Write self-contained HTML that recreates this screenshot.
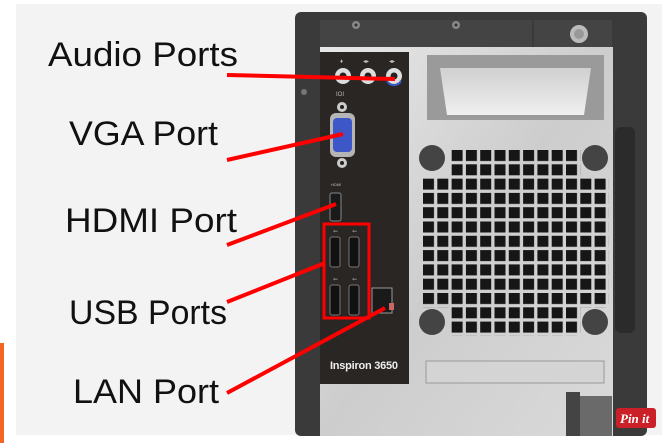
<!DOCTYPE html>
<html><head><meta charset="utf-8"><style>
html,body{margin:0;padding:0;background:#fff;}
svg{display:block;}
</style></head><body>
<svg width="665" height="443" viewBox="0 0 665 443" xmlns="http://www.w3.org/2000/svg">
<defs>
<linearGradient id="sil" x1="0" y1="0" x2="1" y2="1">
<stop offset="0" stop-color="#e8e8e8"/><stop offset="0.5" stop-color="#cdcdcd"/><stop offset="1" stop-color="#dadada"/>
</linearGradient>
<linearGradient id="hd" x1="0" y1="0" x2="0" y2="1">
<stop offset="0" stop-color="#d0d0d0"/><stop offset="1" stop-color="#efefef"/>
</linearGradient>
<pattern id="vp" patternUnits="userSpaceOnUse" x="423" y="150" width="14.3" height="14.3">
<rect x="0" y="0" width="11" height="11" fill="#161616"/>
</pattern>
</defs>
<rect x="0" y="0" width="665" height="443" fill="#fff"/>
<rect x="16" y="4" width="646" height="431" fill="#f3f3f3"/>
<rect x="0" y="343" width="4" height="100" fill="#f26522"/>

<!-- case -->
<rect x="295" y="12" width="352" height="424" rx="6" fill="#3a3a3a"/>
<rect x="320" y="47" width="293" height="389" fill="url(#sil)"/>
<rect x="320" y="20" width="212" height="27" fill="#444"/>
<rect x="534" y="20" width="78" height="27" fill="#444"/>
<circle cx="356" cy="25" r="4" fill="#888"/><circle cx="356" cy="25" r="1.5" fill="#333"/>
<circle cx="456" cy="25" r="4" fill="#888"/><circle cx="456" cy="25" r="1.5" fill="#333"/>
<circle cx="579" cy="34" r="9" fill="#bbb"/><circle cx="579" cy="34" r="5" fill="#999"/>
<circle cx="304" cy="92" r="3" fill="#777"/>
<!-- handle top -->
<path d="M427 55 L604 55 L604 120 L427 120 Z" fill="#9a9a9a"/>
<path d="M440 68 L591 68 L584 115 L447 115 Z" fill="url(#hd)"/>
<!-- right bar -->
<rect x="615" y="127" width="20" height="206" rx="6" fill="#2b2b2b"/>
<!-- black panel -->
<rect x="320" y="52" width="89" height="332" fill="#2a2624"/>
<!-- audio -->
<g fill="#ddd"><circle cx="343" cy="76" r="8"/><circle cx="368" cy="76" r="8"/><circle cx="394" cy="76" r="8"/></g>
<g fill="#222"><circle cx="343" cy="76" r="3.5"/><circle cx="368" cy="76" r="3.5"/><circle cx="394" cy="76" r="3.5"/></g>
<path d="M387 81 A8 8 0 0 0 401 81" stroke="#3a57c8" stroke-width="2" fill="none"/>
<text x="340" y="63" font-size="6" fill="#bbb" font-family="Liberation Sans">♦</text>
<text x="363" y="63" font-size="6" fill="#bbb" font-family="Liberation Sans">◂▸</text>
<text x="389" y="63" font-size="6" fill="#bbb" font-family="Liberation Sans">◂▸</text>
<text x="336" y="96" font-size="6" fill="#bbb" font-family="Liberation Sans">IOI</text>
<!-- VGA -->
<circle cx="342" cy="107" r="5" fill="#ccc"/><circle cx="342" cy="107" r="2" fill="#222"/>
<circle cx="342" cy="163" r="5" fill="#ccc"/><circle cx="342" cy="163" r="2" fill="#222"/>
<rect x="330" y="113" width="25" height="44" rx="6" fill="#b5b5b5"/>
<rect x="333" y="118" width="19" height="34" rx="4" fill="#3d57c9"/>
<!-- HDMI -->
<text x="331" y="186" font-size="4" fill="#bbb" font-family="Liberation Sans">HDMI</text>
<rect x="330" y="193" width="11" height="28" rx="2" fill="#1a1a1a" stroke="#888" stroke-width="1"/>
<!-- USB -->
<g fill="#111" stroke="#777" stroke-width="1">
<rect x="330" y="237" width="10" height="30" rx="2"/><rect x="349" y="237" width="10" height="30" rx="2"/>
<rect x="330" y="285" width="10" height="30" rx="2"/><rect x="349" y="285" width="10" height="30" rx="2"/>
</g>
<g font-size="6" fill="#ccc" font-family="Liberation Sans"><text x="333" y="233">⇽</text><text x="352" y="233">⇽</text><text x="333" y="281">⇽</text><text x="352" y="281">⇽</text></g>
<!-- LAN -->
<rect x="372" y="288" width="20" height="25" fill="#1a1a1a" stroke="#999" stroke-width="1"/>
<rect x="389" y="303" width="5" height="7" fill="#c66"/>
<text x="330" y="369" font-size="11" font-weight="bold" fill="#eee" font-family="Liberation Sans" textLength="68">Inspiron 3650</text>
<!-- vent -->
<rect x="423" y="178.6" width="185.9" height="128.7" fill="url(#vp)"/>
<rect x="451.6" y="150" width="128.7" height="28.6" fill="url(#vp)"/>
<rect x="451.6" y="307.3" width="128.7" height="28.6" fill="url(#vp)"/>
<g fill="#444"><circle cx="432" cy="158" r="13"/><circle cx="595" cy="158" r="13"/><circle cx="432" cy="322" r="13"/><circle cx="595" cy="322" r="13"/></g>
<!-- bottom slot -->
<rect x="426" y="361" width="178" height="22" fill="#d4d4d4" stroke="#999" stroke-width="1"/>
<rect x="566" y="392" width="14" height="44" fill="#444"/>
<rect x="580" y="396" width="32" height="40" fill="#6a6a6a"/>
<!-- red annotations -->
<g stroke="#f00" stroke-width="4" fill="none" stroke-linecap="butt">
<line x1="227" y1="75" x2="395" y2="79"/>
<line x1="227" y1="160" x2="343" y2="134"/>
<line x1="227" y1="245" x2="336" y2="204"/>
<line x1="227" y1="302" x2="325" y2="263"/>
<line x1="227" y1="393" x2="385" y2="308"/>
</g>
<rect x="324" y="224" width="45" height="94" fill="none" stroke="#f00" stroke-width="3"/>
<!-- labels -->
<g font-family="Liberation Sans, sans-serif" font-size="34" fill="#111">
<text x="48" y="66" textLength="190" lengthAdjust="spacingAndGlyphs">Audio Ports</text>
<text x="69" y="145" textLength="149" lengthAdjust="spacingAndGlyphs">VGA Port</text>
<text x="65" y="232" textLength="172" lengthAdjust="spacingAndGlyphs">HDMI Port</text>
<text x="69" y="324" textLength="158" lengthAdjust="spacingAndGlyphs">USB Ports</text>
<text x="73" y="403" textLength="146" lengthAdjust="spacingAndGlyphs">LAN Port</text>
</g>
<!-- pin it -->
<rect x="616" y="408" width="40" height="20" rx="3" fill="#cb2027"/>
<text x="620" y="423" font-size="13" font-style="italic" font-weight="bold" fill="#fff" font-family="Liberation Serif">Pin it</text>
</svg>
</body></html>
